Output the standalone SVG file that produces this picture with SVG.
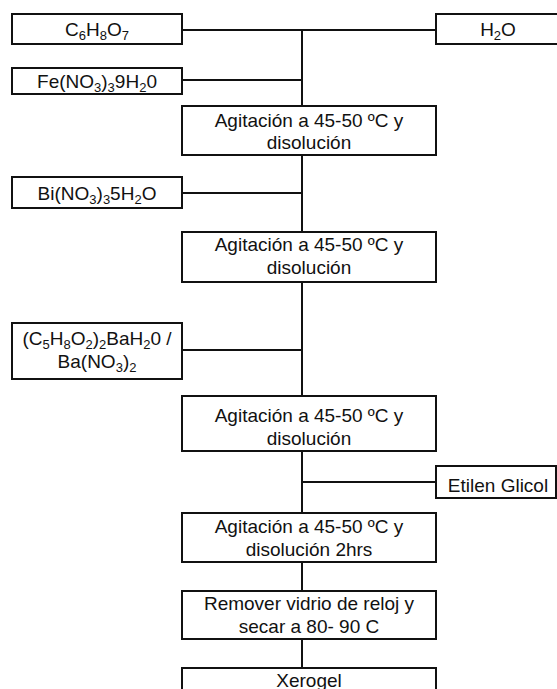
<svg xmlns="http://www.w3.org/2000/svg" width="557" height="689" viewBox="0 0 557 689">
<style>
.box{fill:#fff;stroke:#111;stroke-width:2}
.ln{stroke:#111;stroke-width:2;fill:none}
text{font-family:"Liberation Sans",Arial,sans-serif;font-size:19px;fill:#111;text-anchor:middle}
.s{font-size:13px}
</style>
<rect width="557" height="689" fill="#fff"/>
<g id="connectors">
<path class="ln" d="M182,30 H436 M302,30 V106 M182,80 H302 M302,155 V232 M182,193 H302 M302,282 V396 M182,350 H302 M302,451 V513 M302,482 H436 M302,562 V591 M302,639 V668"/>
</g>
<g id="c6h8o7"><rect class="box" x="12" y="14" width="170" height="30"/><text x="97" y="36">C<tspan class="s" dy="4">6</tspan><tspan dy="-4">H</tspan><tspan class="s" dy="4">8</tspan><tspan dy="-4">O</tspan><tspan class="s" dy="4">7</tspan></text></g>
<g id="h2o"><rect class="box" x="436" y="14" width="130" height="30"/><text x="498" y="36">H<tspan class="s" dy="4">2</tspan><tspan dy="-4">O</tspan></text></g>
<g id="fe"><rect class="box" x="12" y="68" width="170" height="26"/><text x="97" y="88">Fe(NO<tspan class="s" dy="4">3</tspan><tspan dy="-4">)</tspan><tspan class="s" dy="4">3</tspan><tspan dy="-4">9H</tspan><tspan class="s" dy="4">2</tspan><tspan dy="-4">0</tspan></text></g>
<g id="agit1"><rect class="box" x="182" y="106" width="254" height="49"/><text x="309" y="127">Agitación a 45-50 ºC y</text><text x="309" y="149">disolución</text></g>
<g id="bi"><rect class="box" x="12" y="177" width="170" height="31"/><text x="97" y="200">Bi(NO<tspan class="s" dy="4">3</tspan><tspan dy="-4">)</tspan><tspan class="s" dy="4">3</tspan><tspan dy="-4">5H</tspan><tspan class="s" dy="4">2</tspan><tspan dy="-4">O</tspan></text></g>
<g id="agit2"><rect class="box" x="182" y="232" width="254" height="50"/><text x="309" y="251">Agitación a 45-50 ºC y</text><text x="309" y="274">disolución</text></g>
<g id="ba"><rect class="box" x="12" y="323" width="170" height="56"/><text x="97" y="345">(C<tspan class="s" dy="4">5</tspan><tspan dy="-4">H</tspan><tspan class="s" dy="4">8</tspan><tspan dy="-4">O</tspan><tspan class="s" dy="4">2</tspan><tspan dy="-4">)</tspan><tspan class="s" dy="4">2</tspan><tspan dy="-4">BaH</tspan><tspan class="s" dy="4">2</tspan><tspan dy="-4">0 /</tspan></text><text x="97" y="368">Ba(NO<tspan class="s" dy="4">3</tspan><tspan dy="-4">)</tspan><tspan class="s" dy="4">2</tspan></text></g>
<g id="agit3"><rect class="box" x="182" y="396" width="254" height="55"/><text x="309" y="422">Agitación a 45-50 ºC y</text><text x="309" y="445">disolución</text></g>
<g id="etilen"><rect class="box" x="436" y="466" width="120" height="32"/><text x="498" y="492">Etilen Glicol</text></g>
<g id="agit4"><rect class="box" x="182" y="513" width="254" height="49"/><text x="309" y="533">Agitación a 45-50 ºC y</text><text x="309" y="556">disolución 2hrs</text></g>
<g id="remover"><rect class="box" x="182" y="591" width="254" height="48"/><text x="309" y="610">Remover vidrio de reloj y</text><text x="309" y="633">secar a 80- 90 C</text></g>
<g id="xerogel"><rect class="box" x="182" y="668" width="254" height="40"/><text x="309" y="687">Xerogel</text></g>
</svg>
